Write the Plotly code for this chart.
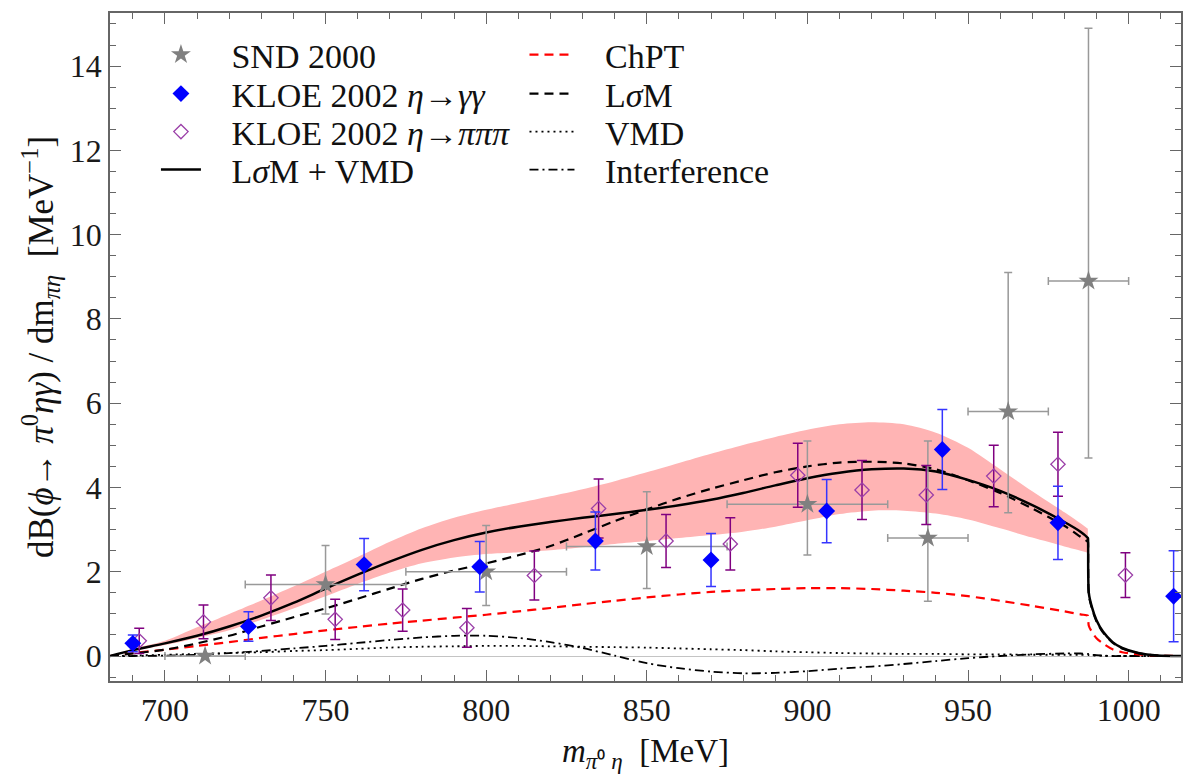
import plotly.graph_objects as go

# ---------------- data ----------------
# theory curves (shared mass grid, MeV)
m_grid = [682.84, 690, 700, 710, 720, 730, 740, 750, 760, 770, 780, 790, 800, 810, 820,
          830, 840, 850, 860, 870, 880, 890, 900, 910, 920, 930, 940, 950, 960, 970,
          980, 985, 987.3, 987.35, 987.6, 988.5, 990, 992, 995, 998, 1003, 1009, 1016.5]

lsm_vmd = [0, 0.14, 0.3, 0.48, 0.7, 0.96, 1.26, 1.6, 1.93, 2.24, 2.52, 2.75, 2.93, 3.07, 3.18,
           3.28, 3.37, 3.47, 3.58, 3.71, 3.87, 4.05, 4.22, 4.35, 4.43, 4.45, 4.38, 4.18, 3.92, 3.58,
           3.18, 2.95, 2.8, 2.79, 1.5, 1.18, 0.85, 0.58, 0.33, 0.19, 0.07, 0.01, 0]

lsm = [0, 0.06, 0.15, 0.3, 0.48, 0.7, 0.92, 1.13, 1.36, 1.6, 1.83, 2.03, 2.2, 2.39, 2.61,
       2.9, 3.2, 3.48, 3.74, 3.97, 4.17, 4.36, 4.5, 4.59, 4.61, 4.57, 4.43, 4.17, 3.87, 3.5,
       3.09, 2.83, 2.71, 2.70, 1.45, 1.15, 0.82, 0.56, 0.32, 0.18, 0.07, 0.01, 0]

chpt = [0, 0.07, 0.15, 0.24, 0.33, 0.43, 0.52, 0.61, 0.69, 0.77, 0.84, 0.91, 0.98, 1.06, 1.14,
        1.23, 1.31, 1.39, 1.46, 1.52, 1.56, 1.59, 1.61, 1.61, 1.59, 1.55, 1.5, 1.42, 1.31, 1.19,
        1.06, 0.99, 0.96, 0.95, 0.72, 0.58, 0.42, 0.3, 0.16, 0.09, 0.04, 0.01, 0]

vmd = [0, 0.01, 0.03, 0.05, 0.07, 0.09, 0.12, 0.14, 0.17, 0.2, 0.22, 0.23, 0.24, 0.24, 0.23,
       0.22, 0.21, 0.2, 0.18, 0.16, 0.14, 0.11, 0.09, 0.07, 0.06, 0.05, 0.05, 0.04, 0.04, 0.03,
       0.03, 0.03, 0.03, 0.03, 0.02, 0.015, 0.01, 0.005, 0, 0, 0, 0, 0]

interference = [0, 0.0, 0.01, 0.03, 0.07, 0.12, 0.18, 0.24, 0.31, 0.38, 0.44, 0.48, 0.48, 0.43, 0.33,
                0.19, 0.01, -0.17, -0.29, -0.37, -0.41, -0.4, -0.36, -0.3, -0.25, -0.19, -0.12, -0.05, 0.0, 0.04,
                0.06, 0.06, 0.05, 0.05, 0.04, 0.03, 0.02, 0.01, 0.0, 0, 0, 0, 0]

# uncertainty band of LσM + VMD (ends at the K+K- threshold)
band_m = m_grid[:33]
band_lo = [0, 0.12, 0.26, 0.43, 0.61, 0.86, 1.13, 1.42, 1.71, 1.98, 2.2, 2.34, 2.42, 2.46, 2.51,
           2.58, 2.66, 2.73, 2.8, 2.87, 2.95, 3.07, 3.22, 3.37, 3.45, 3.45, 3.38, 3.24, 3.03, 2.81,
           2.6, 2.5, 2.45]
band_hi = [0, 0.17, 0.36, 0.68, 1.0, 1.32, 1.65, 2.0, 2.35, 2.71, 3.03, 3.28, 3.47, 3.63, 3.79,
           3.96, 4.15, 4.36, 4.58, 4.8, 5.01, 5.2, 5.37, 5.5, 5.55, 5.5, 5.3, 4.94, 4.43, 3.91,
           3.41, 3.15, 3.02]

# SND 2000
snd_m = [712.5, 750, 800, 850, 900, 937.5, 962.5, 987.5]
snd_dm = [12.5, 25, 25, 25, 25, 12.5, 12.5, 12.5]
snd_y = [0.0, 1.7, 2.0, 2.6, 3.6, 2.8, 5.8, 8.9]
snd_up = [0.0, 0.92, 1.1, 1.3, 1.5, 2.3, 3.3, 6.0]
snd_dn = [0.0, 0.7, 0.8, 1.0, 1.2, 1.5, 2.4, 4.2]

# KLOE 2002, eta -> gamma gamma
kg_m = [690, 726, 762, 798, 834, 870, 906, 942, 978, 1014]
kg_y = [0.30, 0.70, 2.17, 2.12, 2.73, 2.28, 3.44, 4.90, 3.16, 1.42]
kg_e = [0.2, 0.35, 0.62, 0.6, 0.69, 0.63, 0.75, 0.95, 0.87, 1.08]

# KLOE 2002, eta -> pi pi pi
kp_m = [692, 712, 733, 753, 774, 794, 815, 835, 856, 876, 897, 917, 937, 958, 978, 999]
kp_y = [0.36, 0.81, 1.38, 0.87, 1.09, 0.67, 1.91, 3.50, 2.73, 2.66, 4.29, 3.94, 3.82, 4.27, 4.55, 1.92]
kp_e = [0.3, 0.4, 0.54, 0.48, 0.5, 0.46, 0.58, 0.7, 0.63, 0.62, 0.76, 0.7, 0.7, 0.73, 0.76, 0.53]

FONT = "Liberation Serif"
NB = "\u00a0" * 3
LEG_FONT = 34

fig = go.Figure()

# band
fig.add_trace(go.Scatter(x=band_m, y=band_lo, mode="lines", line=dict(width=0, shape="spline", smoothing=0.8),
                         showlegend=False, hoverinfo="skip"))
fig.add_trace(go.Scatter(x=band_m, y=band_hi, mode="lines", line=dict(width=0, shape="spline", smoothing=0.8),
                         fill="tonexty", fillcolor="#ffb4b4", showlegend=False, hoverinfo="skip"))

SP = dict(shape="spline", smoothing=0.8)

# curves
fig.add_trace(go.Scatter(x=m_grid, y=interference, mode="lines", name=NB + "Interference",
                         line=dict(color="black", width=1.8, dash="9px,4px,2px,4px", **SP),
                         legend="legend8"))
fig.add_trace(go.Scatter(x=m_grid, y=vmd, mode="lines", name=NB + "VMD",
                         line=dict(color="black", width=1.8, dash="2px,4px", **SP),
                         legend="legend7"))
fig.add_trace(go.Scatter(x=m_grid, y=chpt, mode="lines", name=NB + "ChPT",
                         line=dict(color="#ff0000", width=2.2, dash="9px,6px", **SP),
                         legend="legend5"))
fig.add_trace(go.Scatter(x=m_grid, y=lsm, mode="lines", name=NB + "L<i>σ</i>M",
                         line=dict(color="black", width=2.2, dash="9px,6px", **SP),
                         legend="legend6"))
fig.add_trace(go.Scatter(x=m_grid, y=lsm_vmd, mode="lines", name=NB + "L<i>σ</i>M + VMD",
                         line=dict(color="black", width=2.5, **SP), legend="legend4"))

# data
fig.add_trace(go.Scatter(x=snd_m, y=snd_y, mode="markers", name=NB + "SND 2000",
                         marker=dict(symbol="star", size=15, color="#808080", line=dict(width=0)),
                         error_x=dict(type="data", array=snd_dm, color="#999999", thickness=1.5, width=4),
                         error_y=dict(type="data", array=snd_up, arrayminus=snd_dn, symmetric=False,
                                      color="#999999", thickness=1.5, width=4),
                         legend="legend"))
fig.add_trace(go.Scatter(x=kp_m, y=kp_y, mode="markers", name=NB + "KLOE 2002 <i>η</i>→<i>πππ</i>",
                         marker=dict(symbol="diamond-open", size=11, color="#9b3fa8", line=dict(width=1.3)),
                         error_y=dict(type="data", array=kp_e, color="#800080", thickness=1.5, width=5),
                         legend="legend3"))
fig.add_trace(go.Scatter(x=kg_m, y=kg_y, mode="markers", name=NB + "KLOE 2002 <i>η</i>→<i>γγ</i>",
                         marker=dict(symbol="diamond", size=13, color="#0000ff", line=dict(width=0)),
                         error_y=dict(type="data", array=kg_e, color="#3535ff", thickness=1.5, width=5),
                         legend="legend2"))

axis_common = dict(
    showline=True, linecolor="#666666", linewidth=1.5, mirror="allticks",
    ticks="inside", ticklen=11, tickwidth=1.3, tickcolor="#666666",
    showgrid=False, tickfont=dict(family=FONT, size=32, color="#1a1a1a"),
)

# legend rows (pixel rows converted to paper fraction of the plot area, top = 13 px, height = 668 px)
def row(py):
    return 1 - (py - 13) / 668.0

def leg(x, py, iw):
    return dict(x=x, y=row(py), xanchor="left", yanchor="middle", bgcolor="rgba(0,0,0,0)",
                font=dict(family=FONT, size=LEG_FONT), itemwidth=iw)

fig.update_layout(
    width=1184, height=777,
    margin=dict(l=110, r=1, t=13, b=96),
    paper_bgcolor="white", plot_bgcolor="white",
    font=dict(family=FONT, size=31, color="#111111"),
    xaxis=dict(**axis_common, range=[682.9, 1016.3], dtick=50, tick0=700,
               minor=dict(dtick=10, ticklen=6, tickcolor="#666666", ticks="inside", tickwidth=1.2),
               zeroline=False,
               title=dict(text="<i>m</i><sub><i>π</i>⁰ <i>η</i></sub>  [MeV]",
                          font=dict(family=FONT, size=33), standoff=12)),
    yaxis=dict(**axis_common, range=[-0.593, 15.26], dtick=2, tick0=0,
               minor=dict(dtick=0.5, ticklen=6, tickcolor="#666666", ticks="inside", tickwidth=1.2),
               zeroline=True, zerolinecolor="#c4c4c4", zerolinewidth=1,
               title=dict(text="dB(<i>ϕ</i>→ <i>π</i><sup>0</sup><i>ηγ</i>) / dm<sub><i>πη</i></sub>  [MeV<sup>−1</sup>]",
                          font=dict(family=FONT, size=35), standoff=6)),
    legend=leg(0.0429, 55, 40),
    legend2=leg(0.0429, 94, 40),
    legend3=leg(0.0429, 132, 40),
    legend4=leg(0.0429, 170, 40),
    legend5=leg(0.387, 55, 45),
    legend6=leg(0.387, 94, 45),
    legend7=leg(0.387, 132, 45),
    legend8=leg(0.387, 170, 45),
)

fig.write_html("out.html")
